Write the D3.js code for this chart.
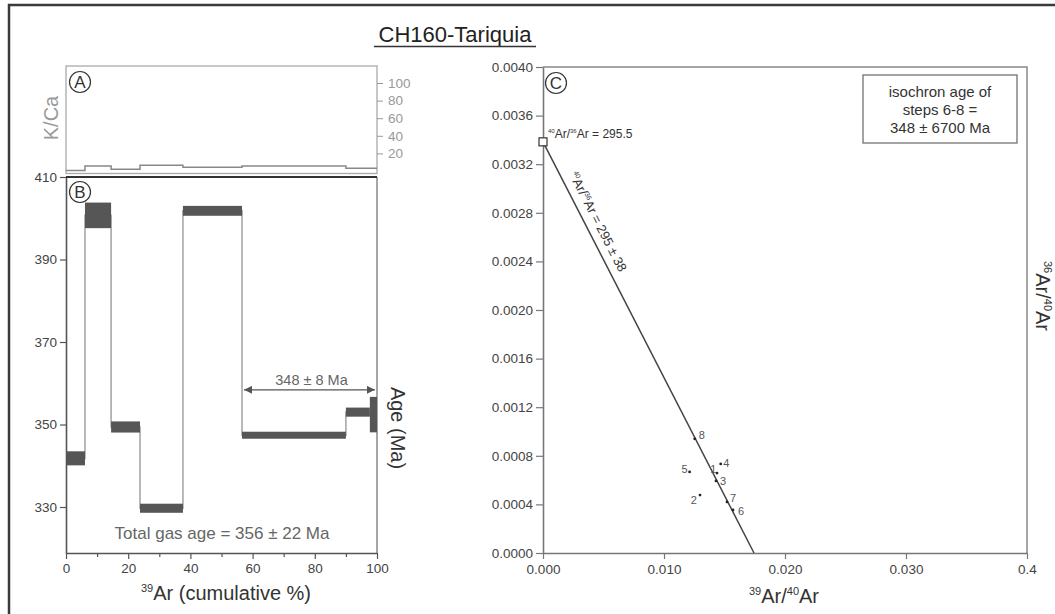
<!DOCTYPE html>
<html><head><meta charset="utf-8">
<script src="https://cdn.jsdelivr.net/npm/d3@7"></script>
<style>
body{margin:0;background:#fff}
svg{display:block;font-family:"Liberation Sans",Arial,Helvetica,sans-serif}
</style>
</head><body>
<svg id="chart" width="1055" height="614"></svg>
<script>
// ---------- data ----------
const stepEdges  = [0, 6.1, 14.5, 23.8, 37.6, 56.6, 90, 97.7, 100];   // cumulative 39Ar %
const stepAges   = [341.8, 400.7, 349.4, 329.7, 401.8, 347.4, 353.0, 352.4];
const stepErrors = [1.7, 3.1, 1.35, 1.1, 1.2, 0.85, 1.1, 4.3];
const kcaValues  = [0.5, 5.7, 2.0, 6.5, 4.2, 5.7, 3.1, 3.1];
const ageTicks   = [330, 350, 370, 390, 410];
const cumTicks   = [0, 20, 40, 60, 80, 100];
const cumMinorTicks = [10, 30, 50, 70, 90];
const kcaTicks   = [20, 40, 60, 80, 100];
const plateauRange = [56.6, 100];
const plateauLabel = "348 ± 8 Ma";
const totalGasLabel = "Total gas age = 356 ± 22 Ma";

const isoLabels = ["1", "2", "3", "4", "5", "6", "7", "8"];
const isoX = [0.01438, 0.012975, 0.014298, 0.014686, 0.012116, 0.015702, 0.015207, 0.012537];
const isoY = [0.000658, 0.000477, 0.000593, 0.000733, 0.000667, 0.000354, 0.000420, 0.000940];
const isoXTicks = [0, 0.01, 0.02, 0.03, 0.04];
const isoXTickLabels = ["0.000", "0.010", "0.020", "0.030", "0.4"];
const isoYTicks = [0, 0.0004, 0.0008, 0.0012, 0.0016, 0.0020, 0.0024, 0.0028, 0.0032, 0.0036, 0.0040];
const atmRatio = 295.5;
const isoXIntercept = 0.017438;
const isoBoxLines = ["isochron age of", "steps 6-8 =", "348 ± 6700 Ma"];

// ---------- setup ----------
const svg = d3.select("#chart");
const AX = "#555";

function styleAxis(g, col, fs) {
  g.attr("font-family", null).attr("font-size", null);
  g.selectAll("text").attr("fill", col).attr("font-size", fs);
}

// outer frame (left and top edges visible)
svg.append("path").attr("d", "M9,614 V5 H1055").attr("fill", "none")
  .attr("stroke", "#3a3a3a").attr("stroke-width", 2.5);

// title
svg.append("text").attr("x", 455).attr("y", 42).attr("text-anchor", "middle")
  .attr("font-size", 22).attr("fill", "#222").text("CH160-Tariquia");
svg.append("line").attr("x1", 374).attr("x2", 536).attr("y1", 46.5).attr("y2", 46.5)
  .attr("stroke", "#333").attr("stroke-width", 1.4);

// ---------- scales ----------
const xCum = d3.scaleLinear().domain([0, 100]).range([66, 377]);
const yAge = d3.scaleLinear().domain([318.85, 410]).range([553, 177]);
const yKca = d3.scaleLinear().domain([0, 100]).range([171, 83]);

// ---------- panel A ----------
svg.append("rect").attr("x", 66).attr("y", 66).attr("width", 311).attr("height", 107.5)
  .attr("fill", "none").attr("stroke", "#aaa").attr("stroke-width", 1.3);
const kcaPts = stepEdges.map((e, i) => [e, kcaValues[Math.min(i, kcaValues.length - 1)]]);
svg.append("path").datum(kcaPts)
  .attr("d", d3.line().x(d => xCum(d[0])).y(d => yKca(d[1])).curve(d3.curveStepAfter))
  .attr("fill", "none").attr("stroke", "#888").attr("stroke-width", 1.5);
const aAxis = svg.append("g").attr("transform", "translate(377,0)")
  .call(d3.axisRight(yKca).tickValues(kcaTicks).tickSize(6).tickPadding(5));
aAxis.select(".domain").remove();
aAxis.selectAll("line").attr("stroke", "#999");
styleAxis(aAxis, "#999", 13.5);
svg.append("text").attr("transform", "translate(58,118) rotate(-90)").attr("text-anchor", "middle")
  .attr("font-size", 20).attr("fill", "#999").text("K/Ca");

function circled(x, y, letter) {
  svg.append("circle").attr("cx", x).attr("cy", y).attr("r", 10.5)
    .attr("fill", "none").attr("stroke", "#333").attr("stroke-width", 1.2);
  svg.append("text").attr("x", x).attr("y", y + 6).attr("text-anchor", "middle")
    .attr("font-size", 17).attr("fill", "#333").text(letter);
}
circled(80, 82, "A");

// ---------- panel B ----------
svg.append("line").attr("x1", 377).attr("x2", 377).attr("y1", 177).attr("y2", 553)
  .attr("stroke", "#888").attr("stroke-width", 1.5);
// step outline through box centres
const stepPts = stepEdges.map((e, i) => [e, stepAges[Math.min(i, stepAges.length - 1)]]);
svg.append("path").datum(stepPts)
  .attr("d", d3.line().x(d => xCum(d[0])).y(d => yAge(d[1])).curve(d3.curveStepAfter))
  .attr("fill", "none").attr("stroke", "#a8a8a8").attr("stroke-width", 1.6);
// error boxes
svg.append("g").selectAll("rect").data(stepAges).join("rect")
  .attr("x", (d, i) => xCum(stepEdges[i]))
  .attr("width", (d, i) => xCum(stepEdges[i + 1]) - xCum(stepEdges[i]))
  .attr("y", (d, i) => yAge(d + stepErrors[i]))
  .attr("height", (d, i) => yAge(d - stepErrors[i]) - yAge(d + stepErrors[i]))
  .attr("fill", "#565656");

const bLeft = svg.append("g").attr("transform", "translate(66,0)")
  .call(d3.axisLeft(yAge).tickValues(ageTicks).tickSize(6).tickPadding(3).tickSizeOuter(0));
bLeft.select(".domain").attr("stroke", AX).attr("stroke-width", 1.6);
bLeft.selectAll("line").attr("stroke", AX).attr("stroke-width", 1.2);
styleAxis(bLeft, "#444", 13.5);
svg.append("line").attr("x1", 66).attr("x2", 377).attr("y1", yAge(410)).attr("y2", yAge(410))
  .attr("stroke", "#333").attr("stroke-width", 2);

const bMinor = svg.append("g").attr("transform", "translate(0,553)")
  .call(d3.axisBottom(xCum).tickValues(cumMinorTicks).tickSize(4).tickFormat(""));
bMinor.select(".domain").remove();
bMinor.selectAll("line").attr("stroke", AX).attr("stroke-width", 1.2);
const bBottom = svg.append("g").attr("transform", "translate(0,553)")
  .call(d3.axisBottom(xCum).tickValues(cumTicks).tickSize(6).tickPadding(4).tickSizeOuter(0));
bBottom.select(".domain").attr("stroke", AX).attr("stroke-width", 1.6);
bBottom.selectAll("line").attr("stroke", AX).attr("stroke-width", 1.2);
styleAxis(bBottom, "#444", 13.5);

circled(80, 192, "B");

// plateau arrow
const defs = svg.append("defs");
["s", "e"].forEach(k => {
  defs.append("marker").attr("id", "arr" + k).attr("viewBox", "0 0 10 10")
    .attr("refX", k === "e" ? 10 : 0).attr("refY", 5).attr("markerWidth", 11).attr("markerHeight", 8)
    .attr("markerUnits", "userSpaceOnUse").attr("orient", "auto")
    .append("path").attr("d", k === "e" ? "M0,0 L10,5 L0,10 Z" : "M10,0 L0,5 L10,10 Z").attr("fill", "#555");
});
const arrowAge = 358.4;
svg.append("line").attr("x1", xCum(plateauRange[0]) + 2).attr("x2", xCum(plateauRange[1]) - 2)
  .attr("y1", yAge(arrowAge)).attr("y2", yAge(arrowAge))
  .attr("stroke", "#555").attr("stroke-width", 1.4)
  .attr("marker-start", "url(#arrs)").attr("marker-end", "url(#arre)");
svg.append("text").attr("x", (xCum(plateauRange[0]) + xCum(plateauRange[1])) / 2 + 2).attr("y", yAge(arrowAge) - 5)
  .attr("text-anchor", "middle").attr("font-size", 14.5).attr("fill", "#666").text(plateauLabel);

svg.append("text").attr("x", 222).attr("y", 539).attr("text-anchor", "middle")
  .attr("font-size", 17).attr("fill", "#666").text(totalGasLabel);

svg.append("text").attr("transform", "translate(391,428) rotate(90)").attr("text-anchor", "middle")
  .attr("font-size", 20).attr("fill", "#333").text("Age (Ma)");
const bxl = svg.append("text").attr("x", 226).attr("y", 600).attr("text-anchor", "middle")
  .attr("font-size", 20).attr("fill", "#333");
bxl.append("tspan").attr("font-size", 11).attr("dy", -8).text("39");
bxl.append("tspan").attr("dy", 8).text("Ar (cumulative %)");

// ---------- panel C ----------
const xIso = d3.scaleLinear().domain([0, 0.04]).range([543, 1027]);
const yIso = d3.scaleLinear().domain([0, 0.004]).range([553, 67]);

svg.append("path").attr("d", `M${xIso(0)},${yIso(0.004)} H${xIso(0.04)} V${yIso(0)}`)
  .attr("fill", "none").attr("stroke", "#888").attr("stroke-width", 1.5);
const cLeft = svg.append("g").attr("transform", `translate(${xIso(0)},0)`)
  .call(d3.axisLeft(yIso).tickValues(isoYTicks).tickSize(7).tickPadding(3).tickSizeOuter(0)
    .tickFormat(d3.format(".4f")));
cLeft.select(".domain").attr("stroke", "#777").attr("stroke-width", 1.6);
cLeft.selectAll("line").attr("stroke", "#777").attr("stroke-width", 1.2);
styleAxis(cLeft, "#444", 13.5);
const cBottom = svg.append("g").attr("transform", `translate(0,${yIso(0)})`)
  .call(d3.axisBottom(xIso).tickValues(isoXTicks).tickSize(6).tickPadding(5).tickSizeOuter(0)
    .tickFormat((d, i) => isoXTickLabels[i]));
cBottom.select(".domain").attr("stroke", "#777").attr("stroke-width", 1.6);
cBottom.selectAll("line").attr("stroke", "#777").attr("stroke-width", 1.2);
styleAxis(cBottom, "#444", 13.5);

circled(556, 83, "C");

// isochron line
const yInt = 1 / atmRatio;
svg.append("line").attr("x1", xIso(0)).attr("y1", yIso(yInt))
  .attr("x2", xIso(isoXIntercept)).attr("y2", yIso(0))
  .attr("stroke", "#444").attr("stroke-width", 1.5);
svg.append("rect").attr("x", xIso(0) - 4).attr("y", yIso(yInt) - 4).attr("width", 8).attr("height", 8)
  .attr("fill", "#fff").attr("stroke", "#333").attr("stroke-width", 1.2);

const atmText = svg.append("text").attr("x", xIso(0) + 5).attr("y", yIso(yInt) - 4)
  .attr("font-size", 12).attr("fill", "#333");
atmText.append("tspan").attr("font-size", 6).attr("dy", -5).text("40");
atmText.append("tspan").attr("dy", 5).text("Ar/");
atmText.append("tspan").attr("font-size", 6).attr("dy", -5).text("36");
atmText.append("tspan").attr("dy", 5).text("Ar = 295.5");

// rotated line label
{
  const x0 = xIso(0), y0 = yIso(yInt), x1 = xIso(isoXIntercept), y1 = yIso(0);
  const L = Math.hypot(x1 - x0, y1 - y0);
  const ux = (x1 - x0) / L, uy = (y1 - y0) / L;
  const ang = Math.atan2(uy, ux) * 180 / Math.PI;
  const along = 96, off = 8;
  const px = x0 + ux * along + uy * off, py = y0 + uy * along - ux * off;
  const t = svg.append("text").attr("transform", `translate(${px},${py}) rotate(${ang})`)
    .attr("text-anchor", "middle").attr("font-size", 13).attr("fill", "#333");
  t.append("tspan").attr("font-size", 7).attr("dy", -5).text("40");
  t.append("tspan").attr("dy", 5).text("Ar/");
  t.append("tspan").attr("font-size", 7).attr("dy", -5).text("36");
  t.append("tspan").attr("dy", 5).text("Ar = 295 ± 38");
}

// points
const labelStyle = {
  "1": {a: "end", dx: -0.5, dy: 0}, "2": {a: "end", dx: -3, dy: 9},
  "3": {a: "start", dx: 4, dy: 4}, "4": {a: "start", dx: 2.5, dy: 3},
  "5": {a: "end", dx: -2, dy: 1}, "6": {a: "start", dx: 5, dy: 5},
  "7": {a: "start", dx: 3, dy: 0}, "8": {a: "start", dx: 4, dy: 0}
};
const pts = svg.append("g");
pts.selectAll("circle").data(isoLabels).join("circle")
  .attr("cx", (d, i) => xIso(isoX[i])).attr("cy", (d, i) => yIso(isoY[i]))
  .attr("r", 1.4).attr("fill", "#222");
pts.selectAll("text").data(isoLabels).join("text")
  .attr("x", (d, i) => xIso(isoX[i]) + labelStyle[d].dx)
  .attr("y", (d, i) => yIso(isoY[i]) + labelStyle[d].dy)
  .attr("text-anchor", d => labelStyle[d].a)
  .attr("font-size", 11).attr("fill", "#555").text(d => d);

// isochron box
svg.append("rect").attr("x", 863).attr("y", 75).attr("width", 154).attr("height", 68)
  .attr("fill", "#fff").attr("stroke", "#666").attr("stroke-width", 1.2);
svg.append("g").selectAll("text").data(isoBoxLines).join("text")
  .attr("x", 940).attr("y", (d, i) => 97 + i * 18).attr("text-anchor", "middle")
  .attr("font-size", 15).attr("fill", "#333").text(d => d);

const cxl = svg.append("text").attr("x", 784).attr("y", 603).attr("text-anchor", "middle")
  .attr("font-size", 20).attr("fill", "#333");
cxl.append("tspan").attr("font-size", 11).attr("dy", -8).text("39");
cxl.append("tspan").attr("dy", 8).text("Ar/");
cxl.append("tspan").attr("font-size", 11).attr("dy", -8).text("40");
cxl.append("tspan").attr("dy", 8).text("Ar");

const cyl = svg.append("text").attr("transform", "translate(1036,296) rotate(90)").attr("text-anchor", "middle")
  .attr("font-size", 20).attr("fill", "#333");
cyl.append("tspan").attr("font-size", 11).attr("dy", -8).text("36");
cyl.append("tspan").attr("dy", 8).text("Ar/");
cyl.append("tspan").attr("font-size", 11).attr("dy", -8).text("40");
cyl.append("tspan").attr("dy", 8).text("Ar");
</script>
</body></html>
